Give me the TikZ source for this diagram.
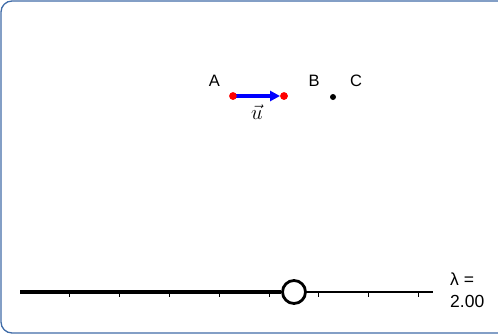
\documentclass[tikz,border=0pt]{standalone}
\usepackage{fontspec}
\setmainfont{Liberation Sans}
\usetikzlibrary{arrows.meta}
\definecolor{framecol}{RGB}{64,108,168}
\definecolor{ptred}{RGB}{255,0,0}
\definecolor{vecblue}{RGB}{0,0,255}
\begin{document}
\begin{tikzpicture}[x=1pt,y=-1pt,
  lbl/.style={font=\fontsize{16.5}{19}\selectfont, inner sep=0pt},
  redpt/.style={circle, fill=ptred, inner sep=0pt, minimum size=7.5pt},
  blackpt/.style={circle, fill=black, inner sep=0pt, minimum size=6pt},
  tick/.style={line width=1pt},
  sval/.style={font=\fontsize{17.5}{20}\selectfont, inner sep=0pt, anchor=west}]
\useasboundingbox (0,0) rectangle (498,335);
\clip (0,0) rectangle (498,335);
\draw[framecol, line width=1.3pt, rounded corners=11pt] (1,1) rectangle (530,333);
% points
\node[redpt] (A) at (233,96) {};
\node[redpt] (B) at (284,96) {};
\node[blackpt] (C) at (333,97) {};
\draw[vecblue, line width=3.2pt, -{Triangle[length=10pt,width=10pt]}] (A.center) -- (B.west);
\node[redpt] at (B) {};
\node[redpt] at (A) {};
\node[lbl] (lA) at (214.5,80.5) {A};
\node[lbl] (lB) at (314,80.5) {B};
\node[lbl] (lC) at (356,80.5) {C};
\node[inner sep=0pt, font=\fontsize{21}{23}\selectfont] (lu) at (257,112) {$\vec{u}$};
% slider
\coordinate (s0) at (20,292);
\coordinate (s1) at (433,292);
\draw[line width=1.1pt] (s0) -- (s1);
\foreach \x in {69,119,169,219,269,318,368,418} {
  \draw[tick] (\x,292) -- (\x,297);
}
\node[circle, draw=black, fill=white, line width=2.8pt, minimum size=23pt, inner sep=0pt] (knob) at (294,292) {};
\draw[line width=4pt] (s0) -- (knob.west);
\node[sval] (lam) at (450,279) {λ =};
\node[sval] (val) at (450,301) {2.00};
\end{tikzpicture}
\end{document}
